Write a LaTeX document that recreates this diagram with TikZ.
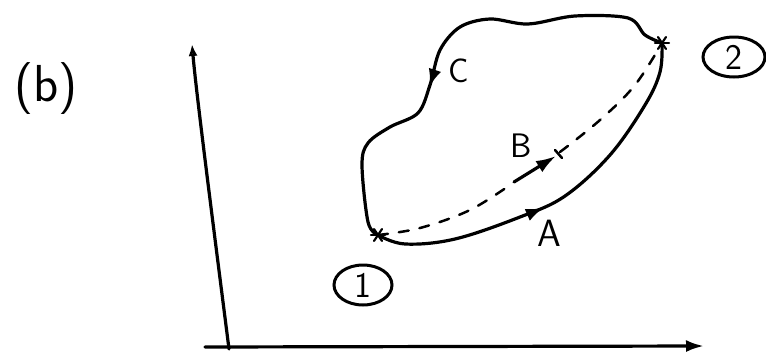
\documentclass[tikz,border=0pt]{standalone}
\usepackage{fontspec}
\setmainfont{DejaVu Sans}
\usetikzlibrary{arrows.meta,shapes.geometric,decorations.markings}
\begin{document}
\begin{tikzpicture}[x=1pt,y=-1pt,
  pen/.style={line width=3.2pt,line cap=round,line join=round},
  lbl/.style={font=\fontsize{34}{34}\selectfont\sffamily,inner sep=0pt},
  circ/.style={draw,ellipse,line width=3pt,minimum width=58pt,minimum height=40pt,inner sep=0pt,font=\fontsize{36}{36}\selectfont\sffamily},
  midarrow/.style={postaction={decorate,decoration={markings,mark=at position #1 with {\arrow{Latex[length=18pt,width=13pt]}}}}}
]
\useasboundingbox (0,0) rectangle (766,354);
% axes
\coordinate (o) at (229,349);
\coordinate (ytop) at (192,44);
\coordinate (xend) at (704,346);
\coordinate (xstart) at (205,347);
\draw[pen,-{Latex[length=12pt,width=9pt,open]}] (o) .. controls (210,200) and (196,90) .. (ytop);
\draw[pen,-{Latex[length=18pt,width=12pt]}] (xstart) -- (xend);
% states
\coordinate (p1) at (378,235);
\coordinate (p2) at (662,43);
% path A
\draw[pen,midarrow=0.45] plot[smooth,tension=0.6] coordinates {(p1) (405,244) (455,239) (520,217) (565,196) (610,155) (645,105) (660,72) (p2)};
% path C
\draw[pen,midarrow=0.605] plot[smooth,tension=0.55] coordinates {(p2) (645,35) (628,18) (575,16) (528,24) (490,19) (460,27) (440,50) (430,85) (418,113) (390,127) (368,143) (362,165) (368,222) (p1)};
% path B dashed
\draw[pen,line width=2.5pt,dash pattern=on 10pt off 11pt] plot[smooth,tension=0.6] coordinates {(p1) (420,228) (470,210) (513,183)};
\draw[pen,line width=2.5pt,dash pattern=on 10pt off 11pt] plot[smooth,tension=0.6] coordinates {(560,152) (600,120) (635,85) (p2)};
\coordinate (bs) at (514,182);
\coordinate (be) at (556,156);
\draw[pen,-{Latex[length=20pt,width=13pt]}] (bs) -- (be);
\draw[pen,line width=2.5pt] (555,150) -- (562,158);
% stars
\foreach \p in {p1,p2}{
  \draw[pen,line width=2.2pt] ([shift={(-7,0)}]\p) -- ([shift={(7,0)}]\p);
  \draw[pen,line width=2.2pt] ([shift={(-4,-6)}]\p) -- ([shift={(4,6)}]\p);
  \draw[pen,line width=2.2pt] ([shift={(4,-6)}]\p) -- ([shift={(-4,6)}]\p);
}
% labels
\node[lbl,font=\fontsize{52}{52}\selectfont\sffamily] (b) at (46,89) {(b)};
\node[lbl] (C) at (459,71) {C};
\node[lbl] (B) at (521,146) {B};
\node[lbl,font=\fontsize{38}{38}\selectfont\sffamily] (A) at (549,233) {A};
\node[circ] (n1) at (363,285) {1};
\node[circ,minimum width=62pt] (n2) at (734,57) {2};
\end{tikzpicture}
\end{document}
